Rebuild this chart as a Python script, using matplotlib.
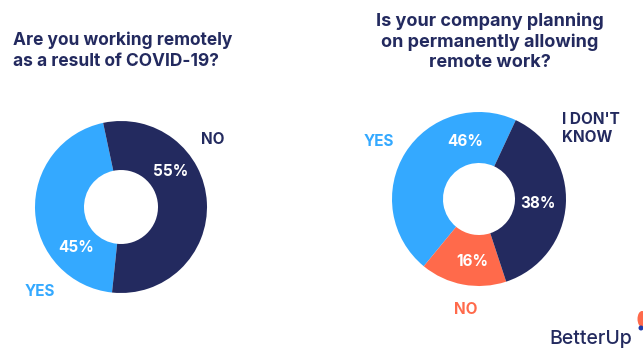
import matplotlib.pyplot as plt
from matplotlib.patches import Ellipse, Circle

# survey answers
remote_labels = ["YES", "NO"]
remote_values = [45, 55]

policy_labels = ["YES", "NO", "I DON'T\nKNOW"]
policy_values = [46, 16, 38]

NAVY = "#232a5f"
BLUE = "#34a9ff"
CORAL = "#ff6a4b"

plt.rcParams["font.family"] = ["Inter", "DejaVu Sans"]

W, H = 643, 351
fig = plt.figure(figsize=(W / 100, H / 100), dpi=100)
ax = fig.add_axes([0, 0, 1, 1])


def py(y):
    # top-down pixel row to data y
    return H - y


def donut(cx, cy, r_out, r_in, values, colors, start):
    wedges, _ = ax.pie(values, colors=colors, startangle=start, counterclock=True,
                       center=(cx, py(cy)), radius=r_out,
                       wedgeprops=dict(width=r_out - r_in, linewidth=0), frame=True)
    return wedges


def pct(x, y, v):
    ax.text(x, py(y), f"{v}%", fontsize=11, fontweight="bold",
            color="white", ha="center", va="center")


# left chart
ax.text(13, py(51), "Are you working remotely\nas a result of COVID-19?",
        fontsize=12.5, fontweight="bold", color=NAVY, ha="left", va="center",
        linespacing=1.3)
donut(121, 207, 86, 37, remote_values, [BLUE, NAVY], 102)
pct(171, 172, remote_values[1])
pct(76, 247, remote_values[0])
ax.text(213, py(139), remote_labels[1], fontsize=11, fontweight="bold",
        color=NAVY, ha="center", va="center")
ax.text(40, py(291), remote_labels[0], fontsize=11, fontweight="bold",
        color=BLUE, ha="center", va="center")

# right chart
ax.text(490, py(42), "Is your company planning\non permanently allowing\nremote work?",
        fontsize=13, fontweight="bold", color=NAVY, ha="center", va="center",
        linespacing=1.25)
donut(479, 199, 87, 36, policy_values, [BLUE, CORAL, NAVY], 65)
pct(465, 142, policy_values[0])
pct(538, 204, policy_values[2])
pct(472, 262, policy_values[1])
ax.text(379, py(142), policy_labels[0], fontsize=11, fontweight="bold",
        color=BLUE, ha="center", va="center")
ax.text(466, py(310), policy_labels[1], fontsize=11, fontweight="bold",
        color=CORAL, ha="center", va="center")
ax.text(562, py(128), policy_labels[2], fontsize=11, fontweight="bold",
        color=NAVY, ha="left", va="center", linespacing=1.25)

# logo
ax.text(549, py(339), "BetterUp", fontsize=14, fontweight="medium",
        color=NAVY, ha="left", va="center")
ax.add_patch(Ellipse((642, py(319)), 9, 16, color=CORAL, lw=0))
ax.add_patch(Circle((641, py(328)), 2.5, color="#1f3aa8", lw=0))

ax.set_xlim(0, W)
ax.set_ylim(0, H)
ax.set_aspect("equal")
ax.axis("off")

fig.savefig("out.png", dpi=100)
